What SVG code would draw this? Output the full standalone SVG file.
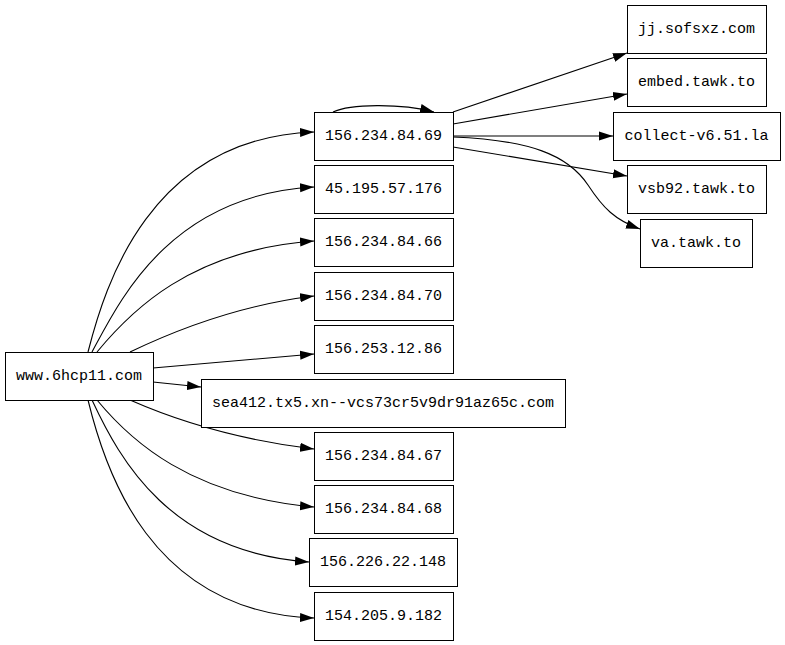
<svg xmlns="http://www.w3.org/2000/svg" width="785" height="645" viewBox="0 0 785 645">
<style>
.n rect{fill:#fff;stroke:#000;stroke-width:1}
.n text{font-family:"Liberation Mono","Courier New",monospace;font-size:15px;text-anchor:middle;dominant-baseline:central;fill:#000}
.e path{fill:none;stroke:#000;stroke-width:1.1;marker-end:url(#a)}
</style>
<defs>
<marker id="a" markerUnits="userSpaceOnUse" markerWidth="14" markerHeight="10" refX="14" refY="5" orient="auto"><path d="M0,0.5 L14,5 L0,9.5 z" fill="#000"/></marker>
</defs>
<rect width="785" height="645" fill="#fff"/>
<g id="edges" class="e">
<path d="M88,352 C105,285 150,138 314,132"/>
<path d="M92,352 C120,300 170,195 314,187"/>
<path d="M97,352 C130,312 190,250 314,241"/>
<path d="M130,352 C180,328 240,305 314,296"/>
<path d="M153,368 L314,354"/>
<path d="M153,382 L201,387"/>
<path d="M130,400 C180,422 240,440 314,449"/>
<path d="M97,400 C130,440 190,496 314,507"/>
<path d="M92,400 C120,460 170,552 309,562"/>
<path d="M88,400 C105,470 150,612 314,618"/>
<path d="M333,112 C350,104 400,103 434,112"/>
<path d="M453,112 L627,53"/>
<path d="M453,124 L627,94"/>
<path d="M453,136 L613,136"/>
<path d="M453,147 L627,176"/>
<path d="M453,137 C530,140 568,155 588,185 C603,208 615,220 640,229"/>
</g>
<g id="n0" class="n"><rect x="5.5" y="352.5" width="148" height="48"/><text x="79" y="376">www.6hcp11.com</text></g>
<g id="n1" class="n"><rect x="314.5" y="112.5" width="139" height="48"/><text x="383.5" y="136">156.234.84.69</text></g>
<g id="n2" class="n"><rect x="314.5" y="165.5" width="139" height="48"/><text x="383.5" y="189">45.195.57.176</text></g>
<g id="n3" class="n"><rect x="314.5" y="218.5" width="139" height="48"/><text x="383.5" y="242">156.234.84.66</text></g>
<g id="n4" class="n"><rect x="314.5" y="272.5" width="139" height="48"/><text x="383.5" y="296">156.234.84.70</text></g>
<g id="n5" class="n"><rect x="314.5" y="325.5" width="139" height="48"/><text x="383.5" y="349">156.253.12.86</text></g>
<g id="n6" class="n"><rect x="201.5" y="379.5" width="364" height="48"/><text x="383" y="403">sea412.tx5.xn--vcs73cr5v9dr91az65c.com</text></g>
<g id="n7" class="n"><rect x="314.5" y="432.5" width="139" height="48"/><text x="383.5" y="456">156.234.84.67</text></g>
<g id="n8" class="n"><rect x="314.5" y="485.5" width="139" height="48"/><text x="383.5" y="509">156.234.84.68</text></g>
<g id="n9" class="n"><rect x="309.5" y="538.5" width="148" height="48"/><text x="383" y="562">156.226.22.148</text></g>
<g id="n10" class="n"><rect x="314.5" y="592.5" width="139" height="48"/><text x="383.5" y="616">154.205.9.182</text></g>
<g id="n11" class="n"><rect x="627.5" y="5.5" width="139" height="48"/><text x="696.5" y="29">jj.sofsxz.com</text></g>
<g id="n12" class="n"><rect x="627.5" y="58.5" width="139" height="48"/><text x="696.5" y="82">embed.tawk.to</text></g>
<g id="n13" class="n"><rect x="613.5" y="112.5" width="167" height="48"/><text x="696.5" y="136">collect-v6.51.la</text></g>
<g id="n14" class="n"><rect x="627.5" y="165.5" width="139" height="48"/><text x="696.5" y="189">vsb92.tawk.to</text></g>
<g id="n15" class="n"><rect x="640.5" y="219.5" width="112" height="48"/><text x="696" y="243">va.tawk.to</text></g>
</svg>
